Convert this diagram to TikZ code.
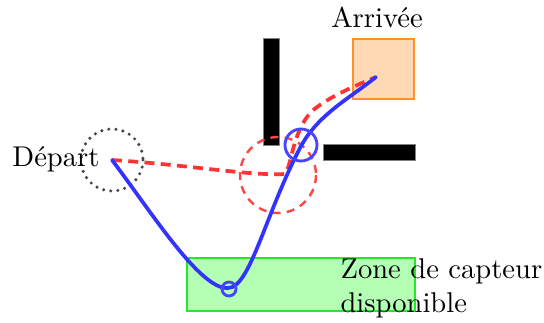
\documentclass[tikz,border=0pt]{standalone}
\usepackage{fontspec}
\begin{document}
\begin{tikzpicture}[x=0.35pt,y=-0.35pt,
  wall/.style={fill=black,draw=gray,line width=0.3pt},
  lbl/.style={inner sep=0pt,font=\normalsize},
  bluepath/.style={draw={rgb,255:red,51;green,51;blue,255},line width=1.3pt,line cap=round},
  redpath/.style={draw={rgb,255:red,255;green,51;blue,51},line width=1.3pt,dash pattern=on 3.5pt off 2.2pt},
  redcirc/.style={draw={rgb,255:red,255;green,70;blue,70},line width=0.85pt,dash pattern=on 2.8pt off 2.2pt},
  bluecirc/.style={draw={rgb,255:red,70;green,70;blue,255},line width=1pt}]
\useasboundingbox (0,0) rectangle (544,322);
% zones
\node[draw={rgb,255:red,40;green,230;blue,40},fill={rgb,255:red,179;green,255;blue,179},line width=0.5pt,minimum width=228*0.35pt,minimum height=53*0.35pt,inner sep=0pt] (zone) at (301,284.5) {};
\node[draw={rgb,255:red,255;green,145;blue,40},fill={rgb,255:red,255;green,217;blue,179},line width=0.5pt,minimum width=61*0.35pt,minimum height=60*0.35pt,inner sep=0pt] (goalbox) at (383.5,69) {};
% walls
\draw[wall] (263,38) rectangle (279,145);
\draw[wall] (323,144) rectangle (415,160);
% coordinates
\coordinate (start) at (112,160);
\coordinate (goal) at (376,77);
\coordinate (rc) at (278,175);
\coordinate (bc) at (301,145);
\coordinate (low) at (228,288);
\coordinate (mid) at (300,148);
% start circle
\draw[draw={rgb,255:red,70;green,70;blue,70},line width=1.2pt,dash pattern=on 0pt off 2.5pt,line cap=round] (start) circle[radius=31];
% red dashed circle
\draw[redcirc] (rc) circle[radius=38];
% red dashed path
\draw[redpath] (start) .. controls (190,165) and (250,176) .. (285,174)
  .. controls (292,165) and (292,132) .. (312,111)
  .. controls (330,96) and (355,86) .. (goal);
% blue path
\draw[bluepath] (start) .. controls (150,210) and (200,290) .. (low)
  .. controls (250,288) and (265,215) .. (mid)
  .. controls (317,115) and (350,98) .. (goal);
% circles on blue path
\draw[bluecirc] (bc) circle[radius=16];
\draw[bluecirc] (229,289) circle[radius=7];
% labels
\node[lbl,anchor=base east] (dep) at (100,167) {Départ};
\node[lbl,anchor=base] (arr) at (377,28) {Arrivée};
\node[lbl,anchor=north west,align=left] (zl) at (340,258) {Zone de capteur\\disponible};
\end{tikzpicture}
\end{document}
